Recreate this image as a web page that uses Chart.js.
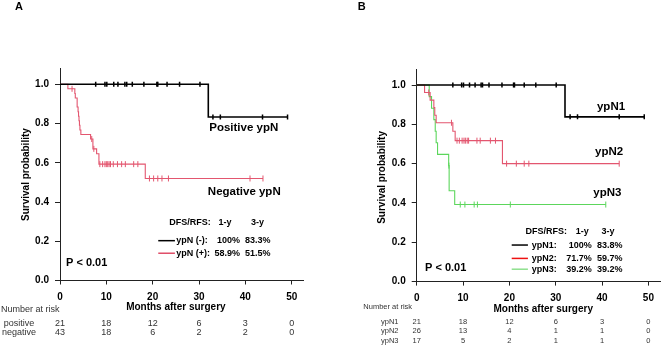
<!DOCTYPE html>
<html>
<head>
<meta charset="utf-8">
<script src="https://cdn.jsdelivr.net/npm/chart.js@4.4.1/dist/chart.umd.min.js"></script>
<style>
  html, body { margin: 0; padding: 0; background: #fff; }
  #wrap { position: relative; width: 669px; height: 346px; }
  canvas { position: absolute; top: 0; }
  #chartA { left: 0; }
  #chartB { left: 335px; }
</style>
</head>
<body>
<div id="wrap">
  <canvas id="chartA" width="335" height="346"></canvas>
  <canvas id="chartB" width="334" height="346"></canvas>
</div>
<script>
// axes
const xTicks = [0, 10, 20, 30, 40, 50];
const yTicks = [0, 0.2, 0.4, 0.6, 0.8, 1.0];
const riskTimes = [0, 10, 20, 30, 40, 50];
const legendHead = ['DFS/RFS:', '1-y', '3-y'];

// Panel A
const aBlackTimes = [0, 32.0, 49.1];
const aBlackSurv = [1, 0.833, 0.833];
const aBlackCens = [7.7, 9.7, 10.1, 11.6, 12.5, 14.0, 14.4, 15.6, 18.1, 20.9, 21.1, 23.1, 25.8, 30.2, 33.0, 34.6, 43.7, 49.1];
const aRedTimes = [0, 1.7, 3.2, 3.3, 3.7, 3.9, 4.0, 4.1, 4.2, 4.3, 4.5, 6.6, 7.1, 7.9, 8.4, 18.4, 43.8];
const aRedSurv = [1, 0.977, 0.953, 0.930, 0.884, 0.860, 0.837, 0.814, 0.791, 0.767, 0.744, 0.721, 0.671, 0.646, 0.593, 0.52, 0.52];
const aRedCens = [2.6, 6.85, 7.3, 8.6, 9.2, 9.7, 10.0, 10.3, 10.6, 10.9, 11.5, 12.4, 13.3, 14.1, 15.9, 16.8, 19.3, 20.2, 21.1, 22.0, 23.4, 41.0, 43.8];
const aCurveNames = ['Positive ypN', 'Negative ypN'];
const aLegendNames = ['ypN (-):', 'ypN (+):'];
const aOneYear = ['100%', '58.9%'];
const aThreeYear = ['83.3%', '51.5%'];
const aRiskNames = ['positive', 'negative'];
const aRiskBlack = [21, 18, 12, 6, 3, 0];
const aRiskRed = [43, 18, 6, 2, 2, 0];

// Panel B
const bBlackTimes = [0, 32.0, 49.1];
const bBlackSurv = [1, 0.838, 0.838];
const bBlackCens = [7.8, 9.7, 10.1, 11.4, 12.6, 13.9, 14.2, 15.6, 18.4, 20.9, 21.1, 23.2, 25.7, 30.1, 33.1, 34.7, 43.7, 49.1];
const bRedTimes = [0, 1.7, 2.9, 3.7, 3.9, 4.2, 7.8, 8.3, 18.5, 43.7];
const bRedSurv = [1, 0.962, 0.923, 0.885, 0.846, 0.808, 0.765, 0.717, 0.60, 0.60];
const bRedCens = [2.6, 7.5, 8.7, 9.2, 9.8, 10.2, 10.5, 10.9, 11.2, 13.0, 13.7, 15.9, 17.0, 19.4, 21.5, 23.2, 24.2, 43.7];
const bGreenTimes = [0, 2.7, 3.2, 3.7, 4.0, 4.2, 4.5, 6.9, 7.0, 8.2, 40.8];
const bGreenSurv = [1, 0.941, 0.882, 0.824, 0.765, 0.706, 0.647, 0.59, 0.462, 0.392, 0.392];
const bGreenCens = [6.95, 9.4, 10.4, 12.4, 13.1, 20.2, 40.8];
const bCurveNames = ['ypN1', 'ypN2', 'ypN3'];
const bLegendNames = ['ypN1:', 'ypN2:', 'ypN3:'];
const bOneYear = ['100%', '71.7%', '39.2%'];
const bThreeYear = ['83.8%', '59.7%', '39.2%'];
const bRiskNames = ['ypN1', 'ypN2', 'ypN3'];
const bRisk1 = [21, 18, 12, 6, 3, 0];
const bRisk2 = [26, 13, 4, 1, 1, 0];
const bRisk3 = [17, 5, 2, 1, 1, 0];

const FONT = 'Liberation Sans, Arial, Helvetica, sans-serif';
const BLACK = '#000000';
const RED = '#e3566f';
const GREEN = '#5cd65c';

function survAt(times, surv, t) {
  let s = surv[0];
  for (let i = 0; i < times.length; i++) if (times[i] <= t) s = surv[i];
  return s;
}

function curve(times, surv, color, w) {
  return {
    data: times.map((t, i) => ({ x: t, y: surv[i] })),
    borderColor: color, borderWidth: w, stepped: true,
    pointRadius: 0, fill: false
  };
}

function censors(times, surv, cens, color, r, w) {
  return {
    data: cens.map(t => ({ x: t, y: survAt(times, surv, t) })),
    showLine: false, pointStyle: 'line', pointRotation: 90,
    pointRadius: r, pointBorderColor: color, pointBorderWidth: w,
    pointBackgroundColor: color
  };
}

function txt(ctx, s, x, y, font, align, color) {
  ctx.font = font;
  ctx.fillStyle = color || '#000';
  ctx.textAlign = align || 'left';
  ctx.textBaseline = 'middle';
  ctx.fillText(s, x, y);
}
const bold = n => 'bold ' + n + 'px ' + FONT;
const normal = n => n + 'px ' + FONT;

// draws titles, labels, legend and risk table
function drawPanel(chart, p) {
  const ctx = chart.ctx;
  const px = m => chart.scales.x.getPixelForValue(m);
  const py = v => chart.scales.y.getPixelForValue(v);
  ctx.save();
  txt(ctx, p.letter, p.letterX, 7, bold(11));

  ctx.save();
  ctx.translate(p.yTitleX, py(p.yTitleV));
  ctx.rotate(-Math.PI / 2);
  txt(ctx, 'Survival probability', 0, 0, bold(10), 'center');
  ctx.restore();
  txt(ctx, 'Months after surgery', px(p.xTitleM), p.xTitleY, bold(10), 'center');

  p.names.forEach((s, i) => txt(ctx, s, px(p.nameM[i]), py(p.nameV[i]), bold(11.5)));
  txt(ctx, 'P < 0.01', px(p.pM), py(p.pV), bold(11));

  // legend
  legendHead.forEach((s, i) => txt(ctx, s, px(p.headM[i]), py(p.headV), bold(9)));
  p.legNames.forEach((s, i) => {
    const y = py(p.rowV[i]);
    ctx.strokeStyle = p.legColors[i];
    ctx.lineWidth = 1.5;
    ctx.beginPath();
    ctx.moveTo(px(p.lineM[0]), y);
    ctx.lineTo(px(p.lineM[1]), y);
    ctx.stroke();
    txt(ctx, s, px(p.legNameM), y, bold(9));
    txt(ctx, p.one[i], px(p.oneM), y, bold(9), 'right');
    txt(ctx, p.three[i], px(p.threeM), y, bold(9), 'right');
  });

  // number at risk
  txt(ctx, 'Number at risk', p.riskTitleX, p.riskTitleY, normal(p.riskFont), 'left', '#333');
  p.riskNames.forEach((s, i) => {
    const y = p.riskY[i];
    txt(ctx, s, p.riskNameX, y, normal(p.riskFont), p.riskNameAlign, '#333');
    p.riskRows[i].forEach((n, j) => txt(ctx, String(n), px(riskTimes[j]), y, normal(p.riskFont), 'center', '#333'));
  });
  ctx.restore();
}

function makeChart(id, box, datasets, panel) {
  const canvas = document.getElementById(id);
  const W = canvas.width, H = canvas.height;
  return new Chart(canvas, {
    type: 'line',
    data: { datasets: datasets },
    options: {
      responsive: false,
      animation: false,
      events: [],
      layout: { padding: { left: 0, top: box.top, right: W - box.right, bottom: 0 } },
      plugins: { legend: { display: false }, tooltip: { enabled: false } },
      scales: {
        x: {
          type: 'linear', min: 0, max: 52.5,
          afterBuildTicks: s => { s.ticks = xTicks.map(v => ({ value: v })); },
          afterFit: s => { s.height = H - box.bottom; },
          grid: { display: true, drawOnChartArea: false, drawTicks: true, tickLength: 4, color: '#222' },
          border: { display: true, color: '#222', width: 1 },
          ticks: { font: { family: FONT, size: 10, weight: 'bold' }, color: '#000', padding: 7, maxRotation: 0, autoSkip: false }
        },
        y: {
          min: 0, max: 1.08,
          afterBuildTicks: s => { s.ticks = yTicks.map(v => ({ value: v })); },
          afterFit: s => { s.width = box.left; },
          grid: { display: true, drawOnChartArea: false, drawTicks: true, tickLength: 5, color: '#222' },
          border: { display: true, color: '#222', width: 1 },
          ticks: { font: { family: FONT, size: 10, weight: 'bold' }, color: '#000', padding: 6,
                   callback: v => Number(v).toFixed(1) }
        }
      }
    },
    plugins: [{ id: 'panel_' + id, afterDraw: c => drawPanel(c, panel) }]
  });
}

makeChart('chartA', { left: 60, right: 303.3, top: 68.6, bottom: 280.5 }, [
  curve(aBlackTimes, aBlackSurv, BLACK, 1.6),
  censors(aBlackTimes, aBlackSurv, aBlackCens, BLACK, 2.5, 1.5),
  curve(aRedTimes, aRedSurv, RED, 1.1),
  censors(aRedTimes, aRedSurv, aRedCens, RED, 3, 1)
], {
  letter: 'A', letterX: 15, yTitleX: 26, yTitleV: 0.54, xTitleM: 25, xTitleY: 307,
  names: aCurveNames, nameM: [32.2, 31.9], nameV: [0.777, 0.45], pM: 1.3, pV: 0.091,
  headM: [23.6, 34.2, 41.2], headV: 0.296, rowV: [0.203, 0.139],
  legNames: aLegendNames, legColors: ['#000', '#e0506a'], lineM: [21.2, 24.8], legNameM: 25.1,
  one: aOneYear, three: aThreeYear, oneM: 38.85, threeM: 45.4,
  riskTitleX: 1, riskTitleY: 309.3, riskFont: 9, riskNames: aRiskNames, riskNameX: 19, riskNameAlign: 'center',
  riskY: [323.3, 332.7], riskRows: [aRiskBlack, aRiskRed]
});

makeChart('chartB', { left: 81.7, right: 325, top: 69.3, bottom: 281.6 }, [
  curve(bBlackTimes, bBlackSurv, BLACK, 1.6),
  censors(bBlackTimes, bBlackSurv, bBlackCens, BLACK, 2.5, 1.5),
  curve(bRedTimes, bRedSurv, RED, 1.1),
  censors(bRedTimes, bRedSurv, bRedCens, RED, 3, 1),
  curve(bGreenTimes, bGreenSurv, GREEN, 1.1),
  censors(bGreenTimes, bGreenSurv, bGreenCens, GREEN, 3, 1)
], {
  letter: 'B', letterX: 22.7, yTitleX: 47.3, yTitleV: 0.53, xTitleM: 27.3, xTitleY: 309.3,
  names: bCurveNames, nameM: [38.9, 38.5, 38.1], nameV: [0.888, 0.658, 0.452], pM: 1.8, pV: 0.071,
  headM: [23.5, 34.3, 39.9], headV: 0.257, rowV: [0.186, 0.118, 0.063],
  legNames: bLegendNames, legColors: ['#000', '#ee1111', '#8ee08e'], lineM: [20.5, 24.0], legNameM: 24.8,
  one: bOneYear, three: bThreeYear, oneM: 37.8, threeM: 44.4,
  riskTitleX: 28.3, riskTitleY: 307.3, riskFont: 7.5, riskNames: bRiskNames, riskNameX: 46, riskNameAlign: 'left',
  riskY: [321.7, 331.3, 341], riskRows: [bRisk1, bRisk2, bRisk3]
});
</script>
</body>
</html>
